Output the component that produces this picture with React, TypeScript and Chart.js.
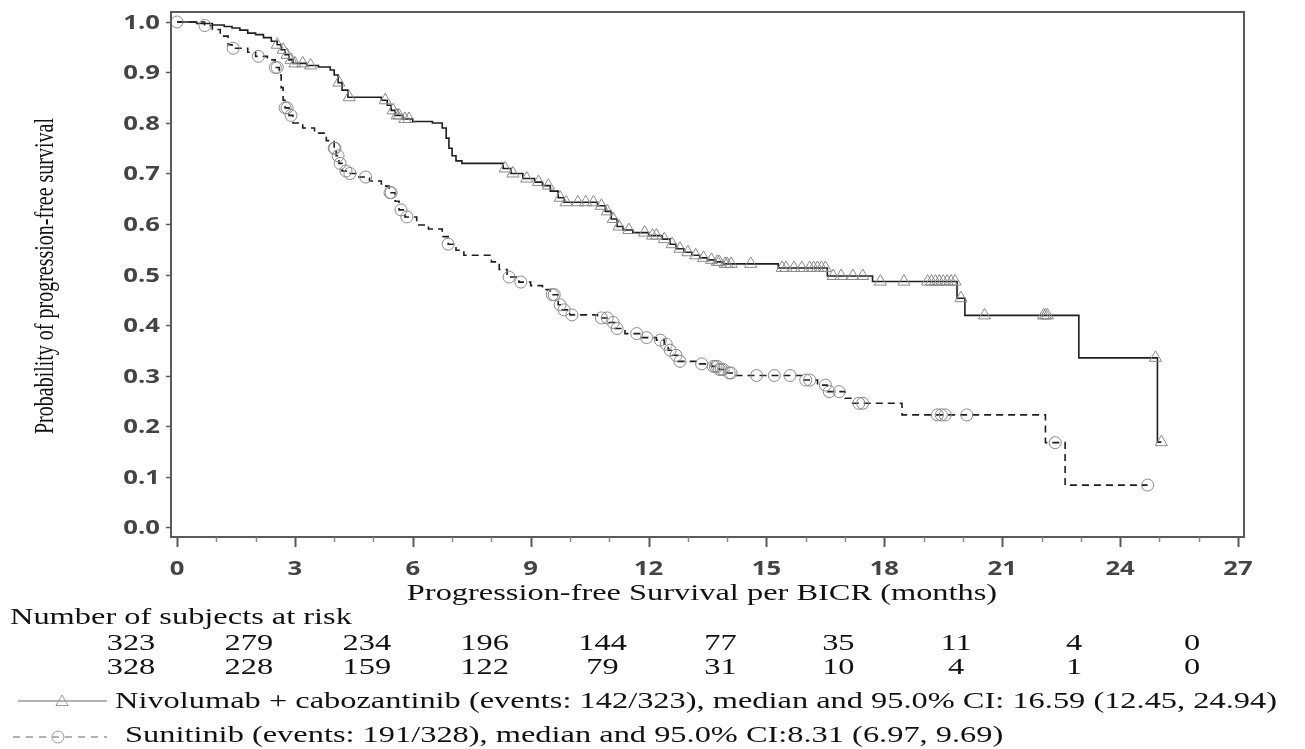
import { useEffect, useRef } from "react";
import { Chart, registerables } from "chart.js";

Chart.register(...registerables);

// Kaplan–Meier estimates: event times (months) and survival after each event
const NIVO_T = [0, 0.5, 0.9, 1.2, 1.4, 1.6, 1.8, 2.0, 2.2, 2.4, 2.55, 2.65, 2.75, 2.85, 2.95, 3.3, 3.6, 3.9, 4.0, 4.1, 4.2, 4.35, 5.2, 5.35, 5.45, 5.55, 5.75, 6.0, 6.5, 6.75, 6.85, 6.92, 7.0, 7.1, 7.25, 8.3, 8.5, 8.8, 9.1, 9.3, 9.5, 9.7, 9.85, 10.7, 10.9, 11.05, 11.2, 11.35, 11.6, 12.0, 12.35, 12.55, 12.7, 12.9, 13.1, 13.3, 13.5, 13.7, 13.9, 15.3, 16.55, 17.7, 19.85, 20.05, 22.95, 24.95];
const NIVO_S = [1.0, 0.997, 0.994, 0.991, 0.988, 0.984, 0.978, 0.975, 0.969, 0.962, 0.955, 0.945, 0.935, 0.925, 0.918, 0.914, 0.911, 0.905, 0.895, 0.88, 0.865, 0.851, 0.845, 0.835, 0.825, 0.815, 0.808, 0.803, 0.8, 0.79, 0.77, 0.75, 0.735, 0.725, 0.72, 0.71, 0.7, 0.69, 0.683, 0.676, 0.665, 0.652, 0.643, 0.636, 0.625, 0.61, 0.595, 0.588, 0.583, 0.577, 0.57, 0.56, 0.551, 0.544, 0.538, 0.533, 0.529, 0.525, 0.521, 0.513, 0.497, 0.486, 0.453, 0.419, 0.335, 0.168];
const NIVO_END = 25.05;
const NIVO_CENSOR = [2.55, 2.7, 2.8, 2.9, 3.0, 3.2, 3.4, 4.12, 4.38, 5.3, 5.5, 5.6, 5.65, 5.8, 5.9, 8.35, 8.55, 8.9, 9.2, 9.45, 9.75, 9.9, 10.2, 10.4, 10.6, 10.8, 10.95, 11.1, 11.25, 11.5, 11.9, 12.1, 12.2, 12.4, 12.6, 12.8, 13.0, 13.2, 13.4, 13.6, 13.75, 13.8, 13.95, 14.0, 14.1, 14.6, 15.4, 15.5, 15.7, 15.9, 16.1, 16.2, 16.3, 16.4, 16.5, 16.7, 16.9, 17.2, 17.45, 17.9, 18.5, 19.1, 19.2, 19.3, 19.4, 19.5, 19.6, 19.7, 19.8, 19.95, 20.55, 22.05, 22.1, 22.15, 24.9, 25.05];

const SUNI_T = [0, 0.7, 0.9, 1.1, 1.3, 1.4, 1.8, 2.0, 2.3, 2.5, 2.6, 2.65, 2.7, 2.75, 2.85, 2.95, 3.2, 3.5, 3.8, 4.0, 4.05, 4.12, 4.2, 4.35, 4.6, 4.9, 5.2, 5.4, 5.55, 5.65, 5.8, 6.1, 6.4, 6.75, 6.9, 7.1, 7.3, 8.0, 8.2, 8.4, 8.7, 9.0, 9.3, 9.5, 9.7, 9.8, 10.0, 10.7, 11.0, 11.15, 11.4, 11.8, 12.2, 12.4, 12.5, 12.6, 12.75, 13.3, 13.6, 13.8, 14.0, 14.2, 15.9, 16.3, 16.55, 17.0, 17.15, 18.45, 22.1, 22.6];
const SUNI_S = [1.0, 0.993, 0.985, 0.972, 0.955, 0.948, 0.94, 0.932, 0.925, 0.91, 0.895, 0.87, 0.845, 0.83, 0.815, 0.8, 0.79, 0.78, 0.765, 0.75, 0.735, 0.72, 0.705, 0.7, 0.693, 0.685, 0.675, 0.662, 0.645, 0.628, 0.614, 0.598, 0.59, 0.575, 0.56, 0.548, 0.538, 0.525, 0.51, 0.495, 0.485, 0.478, 0.47, 0.46, 0.44, 0.43, 0.42, 0.414, 0.405, 0.393, 0.383, 0.375, 0.37, 0.362, 0.35, 0.34, 0.328, 0.323, 0.318, 0.312, 0.305, 0.3, 0.291, 0.281, 0.268, 0.255, 0.245, 0.222, 0.167, 0.083];
const SUNI_END = 24.7;
const SUNI_CENSOR = [0, 0.71, 1.43, 2.07, 2.5, 2.55, 2.75, 2.8, 2.9, 4.0, 4.02, 4.1, 4.15, 4.3, 4.4, 4.8, 5.42, 5.45, 5.7, 5.85, 6.9, 8.45, 8.75, 9.55, 9.6, 9.75, 9.85, 10.05, 10.8, 10.95, 11.1, 11.2, 11.7, 11.95, 12.3, 12.45, 12.55, 12.7, 12.8, 13.35, 13.65, 13.7, 13.75, 13.8, 13.85, 13.9, 14.05, 14.1, 14.75, 15.2, 15.6, 16.0, 16.1, 16.5, 16.6, 16.85, 17.35, 17.45, 19.35, 19.45, 19.55, 20.1, 22.35, 24.7];

const X_TICKS = [0, 3, 6, 9, 12, 15, 18, 21, 24, 27];
const Y_TICKS = [0, 0.1, 0.2, 0.3, 0.4, 0.5, 0.6, 0.7, 0.8, 0.9, 1.0];
const AT_RISK_NIVO = [323, 279, 234, 196, 144, 77, 35, 11, 4, 0];
const AT_RISK_SUNI = [328, 228, 159, 122, 79, 31, 10, 4, 1, 0];

const X_TITLE = "Progression-free Survival per BICR (months)";
const Y_TITLE = "Probability of progression-free survival";
const AT_RISK_TITLE = "Number of subjects at risk";
const NIVO_LABEL = "Nivolumab + cabozantinib (events: 142/323), median and 95.0% CI: 16.59 (12.45, 24.94)";
const SUNI_LABEL = "Sunitinib (events: 191/328), median and 95.0% CI:8.31 (6.97, 9.69)";

const SERIF = "'Liberation Serif', 'Times New Roman', serif";
const SANS = "'Open Sans', 'DejaVu Sans', sans-serif";
const SX = 1.35; // the figure's type is set wide

const stepPoints = (t: number[], s: number[], end: number) => {
  const pts = t.map((v, i) => ({ x: v, y: s[i] }));
  pts.push({ x: end, y: s[s.length - 1] });
  return pts;
};

const survivalAt = (t: number[], s: number[], time: number) => {
  let v = s[0];
  for (let i = 0; i < t.length; i++) if (t[i] <= time) v = s[i];
  return v;
};

const censorPoints = (c: number[], t: number[], s: number[]) =>
  c.map((time) => ({ x: time, y: survivalAt(t, s, time) }));

function drawText(
  ctx: CanvasRenderingContext2D,
  str: string,
  x: number,
  y: number,
  font: string,
  color: string,
  align: CanvasTextAlign,
  baseline: CanvasTextBaseline,
  sx = SX,
  rotate = false
) {
  ctx.save();
  ctx.translate(x, y);
  if (rotate) {
    ctx.rotate(-Math.PI / 2);
    ctx.scale(1, sx);
  } else {
    ctx.scale(sx, 1);
  }
  ctx.font = font;
  ctx.fillStyle = color;
  ctx.textAlign = align;
  ctx.textBaseline = baseline;
  ctx.fillText(str, 0, 0);
  ctx.restore();
}

function triangle(ctx: CanvasRenderingContext2D, x: number, y: number, r: number) {
  ctx.beginPath();
  let a = 0;
  ctx.moveTo(x + Math.sin(a) * r, y - Math.cos(a) * r);
  a += (2 * Math.PI) / 3;
  ctx.lineTo(x + Math.sin(a) * r, y - Math.cos(a) * r);
  a += (2 * Math.PI) / 3;
  ctx.lineTo(x + Math.sin(a) * r, y - Math.cos(a) * r);
  ctx.closePath();
  ctx.stroke();
}

const decor = {
  id: "kmDecor",
  afterDraw(chart: Chart) {
    const { ctx, chartArea: a } = chart;
    const x = chart.scales.x;
    const y = chart.scales.y;
    const tickColor = "#444";

    ctx.save();
    // frame
    ctx.strokeStyle = "#5a5a5a";
    ctx.lineWidth = 2;
    ctx.strokeRect(a.left, a.top, a.right - a.left, a.bottom - a.top);

    // x ticks (major every 3 months, minor every month)
    for (let m = 0; m <= 27; m++) {
      const px = Math.round(x.getPixelForValue(m)) + 0.5;
      const major = X_TICKS.includes(m);
      ctx.lineWidth = major ? 2 : 1.5;
      ctx.strokeStyle = major ? "#5a5a5a" : "#888";
      ctx.beginPath();
      ctx.moveTo(px, a.bottom);
      ctx.lineTo(px, a.bottom + (major ? 10 : 5));
      ctx.stroke();
    }
    X_TICKS.forEach((m) => {
      drawText(ctx, String(m), x.getPixelForValue(m), 575, `bold 19px ${SANS}`, tickColor, "center", "alphabetic");
    });

    // y ticks
    Y_TICKS.forEach((v) => {
      const py = Math.round(y.getPixelForValue(v)) + 0.5;
      ctx.strokeStyle = "#5a5a5a";
      ctx.lineWidth = 1.5;
      ctx.beginPath();
      ctx.moveTo(a.left - 5, py);
      ctx.lineTo(a.left, py);
      ctx.stroke();
      drawText(ctx, v.toFixed(1), 160, py + 1, `bold 19px ${SANS}`, tickColor, "right", "middle");
    });

    // axis titles
    drawText(ctx, X_TITLE, 702, 600, `24px ${SERIF}`, "#111", "center", "alphabetic");
    drawText(ctx, Y_TITLE, 46, 276, `20px ${SERIF}`, "#111", "center", "middle", SX, true);

    // number at risk table
    drawText(ctx, AT_RISK_TITLE, 10, 624, `24px ${SERIF}`, "#111", "left", "alphabetic");
    X_TICKS.forEach((m, i) => {
      const cx = x.getPixelForValue(m) - 46;
      drawText(ctx, String(AT_RISK_NIVO[i]), cx, 650, `24px ${SERIF}`, "#111", "center", "alphabetic");
      drawText(ctx, String(AT_RISK_SUNI[i]), cx, 674, `24px ${SERIF}`, "#111", "center", "alphabetic");
    });

    // legend
    ctx.strokeStyle = "#9a9a9a";
    ctx.lineWidth = 1.5;
    ctx.beginPath();
    ctx.moveTo(18, 701);
    ctx.lineTo(107, 701);
    ctx.stroke();
    ctx.lineWidth = 1;
    ctx.fillStyle = "#fff";
    triangle(ctx, 62, 702, 7);

    ctx.lineWidth = 1.5;
    ctx.setLineDash([7, 6]);
    ctx.beginPath();
    ctx.moveTo(13, 737);
    ctx.lineTo(107, 737);
    ctx.stroke();
    ctx.setLineDash([]);
    ctx.lineWidth = 1;
    ctx.beginPath();
    ctx.arc(58, 737, 6, 0, Math.PI * 2);
    ctx.stroke();

    drawText(ctx, NIVO_LABEL, 115, 708, `24px ${SERIF}`, "#111", "left", "alphabetic");
    drawText(ctx, SUNI_LABEL, 125, 742, `24px ${SERIF}`, "#111", "left", "alphabetic");
    ctx.restore();
  },
};

export default function App() {
  const ref = useRef<HTMLCanvasElement>(null);

  useEffect(() => {
    const canvas = ref.current;
    if (!canvas) return;
    const markerColor = "#8a8a8a";
    const chart = new Chart(canvas, {
      type: "scatter",
      data: {
        datasets: [
          {
            label: "Nivolumab + cabozantinib censored",
            data: censorPoints(NIVO_CENSOR, NIVO_T, NIVO_S),
            pointStyle: "triangle",
            pointRadius: 7,
            pointBorderWidth: 1,
            pointBorderColor: markerColor,
            pointBackgroundColor: "rgba(0,0,0,0)",
            showLine: false,
          },
          {
            label: "Sunitinib censored",
            data: censorPoints(SUNI_CENSOR, SUNI_T, SUNI_S),
            pointStyle: "circle",
            pointRadius: 6,
            pointBorderWidth: 1,
            pointBorderColor: markerColor,
            pointBackgroundColor: "rgba(0,0,0,0)",
            showLine: false,
          },
          {
            type: "line",
            label: "Nivolumab + cabozantinib",
            data: stepPoints(NIVO_T, NIVO_S, NIVO_END),
            stepped: true,
            borderColor: "#1e1e1e",
            borderWidth: 1.6,
            pointRadius: 0,
            fill: false,
          },
          {
            type: "line",
            label: "Sunitinib",
            data: stepPoints(SUNI_T, SUNI_S, SUNI_END),
            stepped: true,
            borderColor: "#1e1e1e",
            borderWidth: 1.6,
            borderDash: [7, 5],
            pointRadius: 0,
            fill: false,
          },
        ],
      },
      options: {
        responsive: false,
        animation: false,
        devicePixelRatio: 1,
        layout: { padding: { left: 171, top: 12, right: 61, bottom: 212 } },
        scales: {
          x: { type: "linear", display: false, min: -0.153, max: 27.153 },
          y: { type: "linear", display: false, min: -0.0198, max: 1.0198 },
        },
        plugins: {
          legend: { display: false },
          tooltip: { enabled: false },
        },
      },
      plugins: [decor],
    });
    return () => chart.destroy();
  }, []);

  return (
    <div style={{ position: "fixed", left: 0, top: 0, width: 1305, height: 749, background: "#fff" }}>
      <canvas ref={ref} width={1305} height={749} style={{ display: "block" }} />
    </div>
  );
}
